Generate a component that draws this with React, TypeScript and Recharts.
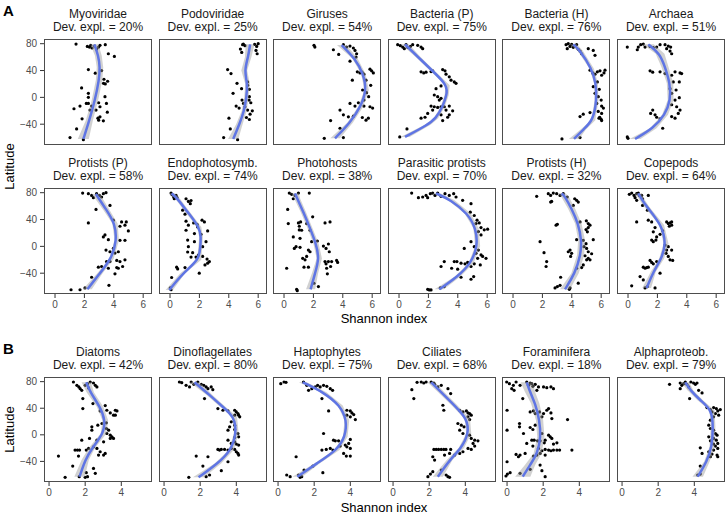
import { ScatterChart, Scatter, XAxis, YAxis } from "recharts";

type Pt = [number, number]; // [shannon, latitude]
type Fit = [number, number, number, number]; // [latitude, lower, fit, upper]

const LAT_TICKS = [-40, 0, 40, 80];
const TICKS_A = [0, 2, 4, 6];
const TICKS_B = [0, 2, 4];

const myoviridaePts: Pt[] = [[1.43,79.5],[2.2,76],[2.34,75],[2.43,77.5],[2.52,73.6],[2.7,76.5],[2.83,72],[2.97,75],[3.06,77.5],[3.42,78.5],[3.63,65],[4.04,61],[2.27,41.5],[2.74,36],[3.17,40],[3.33,27],[3.58,24],[3.3,21],[3.42,20],[1.81,14],[2.27,6],[2.27,0],[3.4,1],[1.29,-17],[1.7,-13],[2.27,-9],[2.13,-9],[2.49,-13],[2.97,-8],[3.06,-14],[3.5,-9],[2.38,-19],[2.79,-19],[3.56,-22],[1.84,-32],[2.92,-31],[3.06,-29],[2.97,-34],[3.29,-35],[1.47,-47],[1.02,-60],[1.93,-63]];
const myoviridaeFit: Fit[] = [[-62,1.55,1.93,2.3],[-34,2.1,2.34,2.58],[-4,2.5,2.72,2.94],[26,2.78,3.0,3.22],[45,2.84,3.06,3.28],[62,2.72,2.95,3.18],[79,2.4,2.68,2.95]];

const podoviridaePts: Pt[] = [[4.94,78.5],[4.99,79.5],[5.1,77],[4.79,72],[4.88,67],[5.76,79],[5.9,76],[6.0,80],[5.85,70],[5.93,65],[3.92,41.5],[4.15,35.5],[4.56,21],[4.87,13],[4.29,6],[5.28,23],[5.28,18],[5.4,12],[5.4,1],[5.38,-4],[4.9,-4],[5.0,-9],[5.1,-14],[5.28,-19],[4.5,-13],[4.7,-16],[5.5,-8],[5.6,-20],[5.45,-25],[4.01,-31],[5.2,-30],[5.4,-33],[4.1,-47],[3.65,-60],[4.6,-63]];
const podoviridaeFit: Fit[] = [[-62,3.95,4.3,4.65],[-40,4.5,4.72,4.94],[-20,4.88,5.05,5.22],[0,5.05,5.2,5.35],[20,5.12,5.28,5.44],[40,4.85,5.05,5.25],[60,5.1,5.32,5.54],[79,5.15,5.45,5.75]];

const girusesPts: Pt[] = [[2.04,77.5],[2.1,75],[3.36,71],[3.72,64],[4.04,78.5],[4.26,75],[4.49,76.5],[4.72,73.6],[4.83,70],[4.94,65],[4.9,60],[4.49,54],[4.99,38],[5.17,36.5],[5.31,37.5],[5.44,34.5],[5.85,42],[5.96,39.5],[6.08,36.5],[4.65,25.7],[5.58,25.7],[5.9,18],[5.35,11],[5.62,7],[5.76,1],[5.44,-4],[4.49,-9],[4.83,-13],[5.06,-8],[5.44,-13],[5.85,-14],[6.03,-16],[3.81,-19],[4.04,-26],[4.38,-29],[4.72,-28],[5.33,-30],[5.74,-31],[5.58,-34],[3.17,-34.6],[3.81,-46],[2.74,-61],[4.04,-60]];
const girusesFit: Fit[] = [[-61,3.15,3.47,3.8],[-38,4.3,4.49,4.68],[-14,5.05,5.22,5.39],[11,5.47,5.62,5.77],[35,5.25,5.4,5.55],[58,4.65,4.83,5.01],[78,3.6,3.92,4.25]];

const bacteriaPPts: Pt[] = [[-0.09,78.5],[0.09,77],[0.25,75],[0.36,72.6],[0.48,78.5],[0.59,74.6],[0.77,76],[0.93,78.5],[1.27,77.5],[1.5,75],[1.61,72.6],[1.5,38],[1.68,36.5],[1.84,37.5],[2.18,38.5],[2.29,39.5],[2.97,41.5],[3.13,39.5],[3.2,34.5],[3.42,30.6],[3.54,25.7],[3.76,23],[3.88,21],[2.52,13],[2.86,17],[2.4,3.5],[2.63,1],[2.74,-4],[2.86,-1.5],[2.18,-13],[2.4,-14],[2.63,-15],[2.29,-19],[1.95,-24],[2.86,-14],[3.08,-14],[3.2,-19],[3.42,-13],[1.5,-31],[1.77,-29.6],[2.86,-26],[2.97,-34.6],[3.42,-26],[3.31,-29.6],[3.65,-20],[0.54,-47],[0.05,-59]];
const bacteriaPFit: Fit[] = [[-59,0.1,0.41,0.72],[-41,1.75,1.95,2.15],[-31,2.37,2.52,2.67],[-14,2.83,2.97,3.11],[3,3.1,3.24,3.38],[18,3.17,3.31,3.45],[40,2.1,2.25,2.4],[60,1.13,1.3,1.47],[79,0.15,0.41,0.67]];

const bacteriaHPts: Pt[] = [[3.61,78.5],[3.76,80],[3.69,72.6],[3.88,76],[3.99,79],[4.1,74.6],[4.33,78.5],[4.44,71.6],[4.56,69],[4.67,65],[5.12,72.6],[5.46,70],[5.58,62.7],[5.24,40.5],[5.42,36.5],[5.58,34.5],[5.74,38],[5.92,39.5],[6.03,33],[6.19,36.5],[6.26,40.5],[5.74,23],[5.46,16],[5.87,12],[5.58,6],[5.8,1],[6.0,-4],[5.7,-9],[6.03,-13],[6.15,-16],[5.8,-21],[6.03,-24],[4.56,-28.6],[4.78,-25],[5.24,-22.7],[5.9,-29.6],[6.0,-32.6],[6.03,-34.6],[5.85,-31],[3.33,-62],[4.56,-60]];
const bacteriaHFit: Fit[] = [[-62,3.8,4.15,4.5],[-48,4.6,4.78,4.96],[-34,5.32,5.46,5.6],[-4,5.56,5.69,5.82],[21,5.52,5.65,5.78],[43,5.2,5.35,5.5],[70,4.38,4.56,4.74],[79,3.85,4.1,4.35]];

const archaeaPts: Pt[] = [[-0.05,75],[0.7,75],[0.86,78.5],[1.04,79.5],[0.63,71],[1.16,75],[1.5,76],[1.72,74],[1.95,75],[2.18,78.5],[2.52,78.5],[2.74,76.5],[2.63,72.6],[2.86,69],[2.97,65],[2.9,75],[1.5,39.5],[1.68,37.5],[2.18,38],[2.52,35.5],[2.97,33],[3.2,38],[3.54,36.5],[3.65,35.5],[3.08,23],[3.49,23],[2.86,13],[3.27,11],[2.97,6],[3.49,-0.5],[3.2,-4],[2.97,-11],[3.31,-14],[3.54,-19],[3.42,-24],[1.68,-19],[1.54,-24],[1.84,-26],[1.95,-29.6],[2.18,-32],[2.97,-28.6],[3.2,-31],[2.36,-46],[-0.05,-59],[0,-61]];
const archaeaFit: Fit[] = [[-62,0.1,0.48,0.85],[-46,1.5,1.72,1.94],[-26,2.32,2.52,2.72],[-4,2.7,2.9,3.1],[21,2.64,2.86,3.08],[45,2.28,2.52,2.76],[65,1.88,2.18,2.48],[79,1.0,1.38,1.75]];

const protistsPPts: Pt[] = [[1.88,79.5],[2.27,78.5],[2.49,76],[2.61,72.6],[2.83,78.5],[3.02,76],[3.17,73.6],[3.29,78.5],[3.47,80],[2.79,55],[3.74,61],[2.27,35],[3.29,14],[3.4,17],[3.97,39],[4.53,36.5],[4.76,31.6],[4.99,23],[4.42,30],[4.85,36.5],[3.63,10],[4.42,9],[4.76,9],[3.74,-8],[4.08,-10],[4.31,-8],[3.47,-5.5],[3.97,-3],[3.51,-22.7],[3.74,-22.7],[4.2,-21],[4.42,-22.7],[4.76,-20],[4.6,-30],[2.95,-31],[3.17,-30],[3.63,-32.6],[4.2,-31.6],[4.31,-32.6],[4.08,-41],[2.49,-46],[3.67,-58],[1.09,-64.7],[1.7,-64.7],[2.04,-62]];
const protistsPFit: Fit[] = [[-64,1.9,2.2,2.5],[-40,2.88,3.06,3.24],[-18,3.7,3.85,4.0],[9,4.05,4.2,4.35],[34,3.9,4.08,4.26],[54,3.3,3.51,3.72],[78,2.5,2.78,3.05]];

const endoPts: Pt[] = [[0.07,79.5],[0.14,77],[0.25,73.6],[0.41,76],[0.29,71],[0.48,72.6],[1.09,71],[1.25,67],[1.43,68.4],[1.38,63.7],[0.86,54],[1.02,48],[1.09,37.5],[1.25,31.6],[1.61,35],[1.84,33],[1.88,29],[2.18,39],[2.34,36.5],[2.56,23],[1.09,24],[1.66,19],[2.11,18],[1.2,9.4],[1.25,-0.5],[1.66,7],[2.45,7],[2.22,-0.5],[1.2,-8.4],[1.54,-9.4],[1.77,-16],[1.43,-16],[1.93,-13],[2.22,-15],[2.52,-19],[2.68,-22.7],[2.56,-25],[2.38,-27.6],[0.45,-31],[0.52,-33.6],[1.02,-31.6],[1.99,-40],[0.11,-46.4],[0.07,-64.7],[0.02,-62]];
const endoFit: Fit[] = [[-65,-0.3,-0.05,0.2],[-40,0.7,0.86,1.02],[-20,1.85,1.99,2.13],[0,1.93,2.06,2.19],[14,1.98,2.11,2.24],[29,1.85,1.99,2.13],[51,1.04,1.2,1.36],[71,0.36,0.52,0.68],[79,-0.1,0.11,0.32]];

const photohostsPts: Pt[] = [[0.36,79.5],[0.52,77.5],[0.75,76],[0.98,79.5],[1.72,79.5],[0.63,71],[0.25,55],[1.95,44],[0.29,34],[0.98,35],[1.13,36.5],[1.54,34],[1.77,24],[1.04,30],[1.2,24],[2.79,35],[3.13,36.5],[1.04,24.5],[0.63,14],[1.09,12],[1.88,7],[2.27,8],[0.82,-0.5],[0.7,-3],[1.09,-1.5],[1.66,-5.5],[1.77,-8],[2.68,0.5],[3.02,3.5],[2.86,-3],[3.08,-8],[1.27,-17.8],[1.54,-15],[1.43,-20],[2.79,-22.7],[3.02,-22.7],[3.24,-22.7],[3.58,-21],[3.65,-24],[2.86,-26],[1.36,-31],[1.66,-31],[2.9,-32.6],[3.17,-30],[0.18,-32.6],[2.95,-41],[0.86,-64],[0.9,-66],[2.34,-60],[2.04,-55]];
const photohostsFit: Fit[] = [[-64,1.5,1.81,2.12],[-40,1.9,2.11,2.32],[-18,2.22,2.4,2.58],[4,2.0,2.18,2.36],[27,1.6,1.77,1.94],[51,1.14,1.32,1.5],[71,0.7,0.9,1.1],[79,0.5,0.75,1.0]];

const parasiticPts: Pt[] = [[0.86,79.5],[1.32,72.6],[1.61,73.6],[1.84,76],[1.95,72.6],[2.13,78.5],[2.29,79.5],[2.45,76],[2.63,79.5],[2.86,74.6],[3.13,78.5],[3.42,76],[3.72,78.5],[3.88,73.6],[4.33,68.6],[4.9,63.7],[4.85,51],[5.12,46],[5.31,39],[5.46,35],[5.24,34],[5.58,28],[5.4,22],[5.58,17],[5.8,24.7],[6.03,25.7],[4.44,-3],[4.9,7],[5.12,-0.5],[5.24,-10.4],[5.4,-5.5],[5.58,-12.8],[5.69,-15],[5.92,-17.8],[5.35,-17.8],[3.08,-22.7],[3.76,-22.7],[3.94,-22.7],[4.22,-25],[4.49,-26],[4.67,-24],[4.9,-30],[5.12,-26],[5.53,-27.6],[2.86,-30],[3.58,-32.6],[3.99,-34],[4.22,-46],[4.9,-49],[5.08,-45],[1.95,-64],[2.06,-65],[2.18,-65],[2.81,-62],[3.08,-60]];
const parasiticFit: Fit[] = [[-64,2.42,2.74,3.06],[-45,3.8,3.99,4.18],[-25,4.73,4.9,5.07],[0,5.18,5.35,5.52],[27,5.06,5.24,5.42],[49,4.46,4.67,4.88],[69,3.32,3.54,3.76],[79,2.25,2.52,2.8]];

const protistsHPts: Pt[] = [[1.61,74.6],[2.4,78.5],[2.56,76],[2.74,79.5],[2.63,67],[2.97,78.5],[3.2,76],[3.42,78.5],[3.69,73.6],[2.56,66],[4.2,71],[4.33,68.6],[4.44,66],[4.1,61],[4.99,38],[5.12,34],[5.24,31.6],[5.12,28],[4.97,25],[5.06,21.7],[2.93,31.6],[3.02,33],[4.56,36.5],[1.84,7],[4.33,10],[4.78,9],[5.46,10],[4.97,4],[4.83,-0.5],[5.01,-3],[5.12,-8],[5.35,-11],[4.9,-14],[5.12,-17.8],[5.01,-20],[5.24,-20],[2.11,-9.4],[2.29,-22.7],[2.25,-30],[3.88,-5.5],[3.76,-8],[3.99,-10.4],[3.92,-15],[4.33,-32.6],[4.67,-31.6],[4.78,-27.6],[3.24,-46],[4.44,-54.8],[2.86,-62],[3.02,-60],[3.2,-58],[3.83,-64],[3.88,-62]];
const protistsHFit: Fit[] = [[-64,3.2,3.54,3.88],[-40,3.97,4.22,4.47],[-13,4.36,4.6,4.84],[9,4.44,4.67,4.9],[34,4.22,4.44,4.66],[56,3.75,3.99,4.23],[74,3.28,3.54,3.8],[79,3.05,3.31,3.57]];

const copepodsPts: Pt[] = [[0.09,77.5],[0.25,79.5],[0.41,76],[0.59,78.5],[0.48,72.6],[0.59,68.6],[0.7,79.5],[0.93,76],[0.99,71],[1.38,76],[0.77,76],[0.99,61],[1.32,54],[0.59,36.5],[1.38,39],[1.61,36.5],[2.63,36.5],[2.74,34],[2.86,35],[2.97,36.5],[2.81,30],[2.97,31.6],[1.84,28],[1.72,21.7],[1.95,14],[2.18,18],[2.36,23],[1.9,9.4],[1.61,9.4],[1.72,7],[2.52,2],[2.74,-0.5],[2.63,-5.5],[2.97,-5.5],[2.59,-10.4],[2.74,-15],[2.86,-20],[3.04,-21],[1.5,-21],[1.61,-24],[1.72,-26],[1.95,-22.7],[1.04,-31],[1.16,-32.6],[1.27,-31.6],[1.38,-31],[2.18,-40],[0.82,-45],[1.04,-50],[0.25,-58.8],[1.16,-62],[1.32,-60],[1.84,-62]];
const copepodsFit: Fit[] = [[-62,0.97,1.27,1.57],[-38,1.55,1.72,1.89],[-18,2.12,2.29,2.46],[4,2.42,2.59,2.76],[32,2.13,2.29,2.45],[59,1.1,1.27,1.44],[74,0.63,0.82,1.01],[79,0.45,0.7,0.95]];

const diatomsPts: Pt[] = [[1.35,79.5],[1.54,74.5],[1.65,72],[1.72,69.5],[1.81,67],[2.0,74.5],[2.13,77],[2.28,79.5],[2.46,78],[2.56,74.5],[2.19,70.5],[2.65,72],[1.87,54.5],[1.87,39.5],[2.43,47],[2.83,36],[3.11,44],[3.2,37],[3.39,33],[3.57,29.5],[3.67,37],[3.76,36],[3.67,29.5],[2.37,12],[2.37,7],[2.7,14.5],[2.93,17],[3.17,18],[3.17,9.5],[3.3,7],[3.39,-0.5],[3.48,-3],[3.2,2],[3.39,-5.5],[3.57,-5.5],[1.81,-8],[2.24,-5.5],[2.65,-8],[3.02,-10.5],[1.44,-23],[1.57,-23],[1.69,-23],[2.06,-23],[2.19,-20.5],[2.46,-18],[2.65,-20.5],[2.83,-25.5],[3.02,-30.5],[3.11,-28],[0.52,-32],[1.63,-32],[2.74,-30.5],[1.31,-47],[2.46,-50.5],[2.06,-57],[2.56,-58],[0.89,-64],[1.67,-63],[2.0,-64],[2.13,-63]];
const diatomsFit: Fit[] = [[-63,1.4,1.69,1.98],[-38,1.8,2.0,2.2],[-20,2.2,2.37,2.54],[2,2.86,3.02,3.18],[22,2.95,3.11,3.27],[42,2.65,2.83,3.01],[64,2.08,2.28,2.48],[79,1.8,2.06,2.32]];

const dinoPts: Pt[] = [[0.85,79.5],[0.98,78.5],[1.5,79.5],[1.65,76],[1.87,79.5],[2.06,76],[2.2,74.5],[2.33,72],[2.43,69.5],[2.61,72],[2.7,68],[1.22,74.5],[1.41,72],[2.24,54.5],[2.98,39.5],[3.26,37],[3.54,36],[3.91,37],[4.0,34.5],[4.09,32],[4.13,29.5],[3.91,29.5],[4.19,27],[3.72,19.5],[3.63,12],[3.54,7],[3.91,14.5],[3.91,8],[4.09,2],[4.13,-3],[3.91,-4],[3.54,-8],[3.72,-13],[3.91,-10.5],[4.0,-14],[4.13,-15.5],[2.98,-22],[3.07,-23],[3.17,-22],[3.35,-22],[3.54,-23],[3.72,-20.5],[3.91,-22],[4.0,-25.5],[4.09,-28],[4.13,-30.5],[1.78,-32],[2.43,-33],[3.54,-40.5],[2.15,-47],[3.17,-54],[1.37,-64],[2.33,-63],[2.52,-60.5]];
const dinoFit: Fit[] = [[-64,1.6,1.91,2.22],[-43,2.8,2.98,3.16],[-23,3.58,3.72,3.86],[2,3.87,4.0,4.13],[27,3.78,3.91,4.04],[44,3.02,3.17,3.32],[60,2.36,2.52,2.68],[79,1.42,1.69,1.96]];

const haptoPts: Pt[] = [[0.15,77],[0.33,79.5],[0.44,79],[1.41,79.5],[1.59,74.5],[1.69,67],[1.87,69.5],[2.06,72],[2.19,74.5],[2.33,72],[2.52,74.5],[2.7,73],[2.89,69.5],[3.02,67],[2.43,54.5],[2.8,36],[3.81,37],[4.0,36],[4.09,33],[4.19,30.5],[4.28,23],[4.0,27],[3.81,29.5],[2.52,2],[3.07,-8],[3.17,-9],[3.35,-9],[4.0,-7],[3.91,-13],[3.72,-15.5],[3.81,-18],[4.0,-20.5],[3.44,-17],[2.43,-23],[2.67,-22],[2.89,-20.5],[3.04,-23],[3.63,-28],[3.78,-32],[4.0,-32],[1.0,-33],[1.93,-47],[2.48,-57],[1.44,-53],[0.48,-60.5],[0.67,-63],[1.13,-60.5],[1.31,-63],[1.22,-64]];
const haptoFit: Fit[] = [[-63,0.8,1.07,1.34],[-43,2.0,2.15,2.3],[-23,3.12,3.26,3.4],[-3,3.59,3.72,3.85],[22,3.68,3.81,3.94],[44,3.3,3.44,3.58],[64,2.36,2.52,2.68],[79,1.15,1.37,1.59]];

const ciliatesPts: Pt[] = [[1.33,79],[1.56,79.5],[1.7,78],[1.83,79.5],[2.11,79.5],[2.3,76],[2.48,72],[2.67,74.5],[3.04,69.5],[3.19,62],[1.04,68],[1.15,54.5],[2.26,78],[2.76,44.5],[2.81,37],[3.69,37],[3.87,34.5],[4.06,36],[4.15,33],[4.24,32],[4.33,29.5],[4.15,27],[4.24,23],[3.59,17],[3.78,14.5],[3.93,12],[3.69,7],[3.87,2],[4.24,-0.5],[4.33,-5.5],[4.52,-8],[4.7,-9],[4.43,-13],[4.52,-17],[4.15,-20.5],[4.33,-22],[2.26,-22],[2.39,-22],[2.52,-22],[2.67,-22],[2.81,-22],[2.93,-22],[3.19,-22],[2.2,-33],[2.3,-38],[2.85,-30.5],[3.13,-28],[3.41,-30.5],[3.69,-28],[3.87,-25.5],[2.07,-59],[2.2,-55.5],[1.93,-63],[2.67,-53],[2.94,-60.5],[3.04,-63],[3.13,-64]];
const ciliatesFit: Fit[] = [[-63,2.2,2.48,2.76],[-38,2.97,3.13,3.29],[-20,3.63,3.78,3.93],[2,4.05,4.19,4.33],[24,3.96,4.11,4.26],[44,3.25,3.41,3.57],[64,2.5,2.67,2.84],[79,1.9,2.11,2.32]];

const foramPts: Pt[] = [[-0.02,79.5],[0.13,77],[0.35,74.5],[0.5,79.5],[0.26,69.5],[0.39,67],[0.87,54.5],[0.72,74.5],[1.09,79.5],[1.28,78],[1.37,77],[1.56,76],[1.74,72],[2.02,72],[2.2,71],[2.43,72],[2.57,69.5],[1.65,67],[1.43,73],[1.19,74.5],[0,37],[1.28,34.5],[1.46,36],[1.56,32],[1.8,34.5],[2.02,32],[2.2,37],[2.3,39.5],[2.43,33],[1.93,27],[2.48,24.5],[3.35,23],[0,7],[0.69,17],[0.69,12],[0.91,2],[1.28,11],[1.43,8],[1.56,14.5],[1.93,2],[2.3,-0.5],[2.39,-3],[2.48,-5.5],[2.11,-8],[1.37,-8],[1.5,-8],[1.69,-9],[1.83,-9],[2.06,-12],[2.57,-14],[2.76,-12],[1.43,-17],[1.74,-20.5],[1.09,-13],[2.11,-22],[2.3,-23],[2.43,-24],[2.57,-23],[2.76,-23],[2.91,-23],[3.59,-23],[0.5,-29.5],[0.63,-33],[0.72,-30.5],[1.0,-28],[1.46,-32],[1.65,-30.5],[1.83,-28],[1.93,-24],[2.11,-30.5],[0,-40.5],[-0.06,-62],[0.02,-59],[0.17,-57],[1.83,-45.5],[1.93,-54],[2.11,-63],[1.28,-52],[0.72,-58]];
const foramFit: Fit[] = [[-63,0.45,0.87,1.29],[-45,1.0,1.28,1.56],[-28,1.47,1.69,1.91],[-3,1.67,1.87,2.07],[22,1.6,1.8,2.0],[47,1.33,1.56,1.79],[64,1.0,1.28,1.56],[79,0.75,1.09,1.43]];

const alphaPts: Pt[] = [[2.63,76],[3.22,78],[3.31,74.5],[3.41,77],[3.5,79.5],[3.59,76],[3.69,72],[3.81,79.5],[3.96,78],[4.06,76],[4.15,78],[3.22,69.5],[3.74,54.5],[4.24,67],[4.43,63],[4.7,41],[4.89,38],[5.07,41],[5.22,39.5],[5.3,36],[5.44,38],[4.98,34.5],[5.17,32],[5.35,29.5],[5.07,27],[4.89,22],[4.8,14.5],[4.89,9.5],[5.07,7],[5.17,2],[5.26,-0.5],[5.07,-5.5],[4.8,-3],[5.22,-8],[5.3,-13],[5.07,-14],[4.89,-9],[5.17,-17],[5.3,-20.5],[5.07,-23],[4.33,-19.5],[4.43,-28],[4.8,-25.5],[4.98,-29],[5.26,-30.5],[5.3,-33],[4.89,-33],[4.33,-47],[4.19,-60.5],[4.33,-59]];
const alphaFit: Fit[] = [[-63,3.9,4.19,4.48],[-40,4.55,4.7,4.85],[-18,4.84,4.98,5.12],[12,4.91,5.04,5.17],[37,4.84,4.98,5.12],[52,4.18,4.33,4.48],[67,3.62,3.78,3.94],[79,3.28,3.5,3.72]];

const rowA1 = [
  { name: "Myoviridae", dev: 20, pts: myoviridaePts, fit: myoviridaeFit },
  { name: "Podoviridae", dev: 25, pts: podoviridaePts, fit: podoviridaeFit },
  { name: "Giruses", dev: 54, pts: girusesPts, fit: girusesFit },
  { name: "Bacteria (P)", dev: 75, pts: bacteriaPPts, fit: bacteriaPFit },
  { name: "Bacteria (H)", dev: 76, pts: bacteriaHPts, fit: bacteriaHFit },
  { name: "Archaea", dev: 51, pts: archaeaPts, fit: archaeaFit },
];
const rowA2 = [
  { name: "Protists (P)", dev: 58, pts: protistsPPts, fit: protistsPFit },
  { name: "Endophotosymb.", dev: 74, pts: endoPts, fit: endoFit },
  { name: "Photohosts", dev: 38, pts: photohostsPts, fit: photohostsFit },
  { name: "Parasitic protists", dev: 70, pts: parasiticPts, fit: parasiticFit },
  { name: "Protists (H)", dev: 32, pts: protistsHPts, fit: protistsHFit },
  { name: "Copepods", dev: 64, pts: copepodsPts, fit: copepodsFit },
];
const rowB = [
  { name: "Diatoms", dev: 42, pts: diatomsPts, fit: diatomsFit },
  { name: "Dinoflagellates", dev: 80, pts: dinoPts, fit: dinoFit },
  { name: "Haptophytes", dev: 75, pts: haptoPts, fit: haptoFit },
  { name: "Ciliates", dev: 68, pts: ciliatesPts, fit: ciliatesFit },
  { name: "Foraminifera", dev: 18, pts: foramPts, fit: foramFit },
  { name: "Alphaproteob.", dev: 79, pts: alphaPts, fit: alphaFit },
];

const FONT = '"Liberation Sans", Arial, Helvetica, sans-serif';
const COL_LEFT = 44;
const COL_STEP = 114.6;
const PANEL_W = 108;
const Y_AXIS_W = 44;
const X_AXIS_H = 20;

const Dot = (p: any) => <circle cx={p.cx} cy={p.cy} r={1.6} fill="#000" />;
const Nothing = () => <g />;
const Ribbon = (p: any) => {
  const pts = p.points || [];
  if (!pts.length) return <g />;
  const d = pts.map((q: any, i: number) => `${i ? "L" : "M"}${q.x},${q.y}`).join("") + "Z";
  return <path d={d} fill="#999999" fillOpacity={0.45} stroke="none" />;
};
const minus = (v: number) => String(v).replace("-", "\u2212");

function Panel({ p, col, top, h, showX, xDomain, xTicks }: any) {
  const left = COL_LEFT + col * COL_STEP;
  const showY = col === 0;
  const yW = showY ? Y_AXIS_W : 0;
  const xH = showX ? X_AXIS_H : 0;
  const dots = p.pts.map(([x, y]: Pt) => ({ x, y }));
  const line = p.fit.map((f: Fit) => ({ x: f[2], y: f[0] }));
  const ribbon = [
    ...p.fit.map((f: Fit) => ({ x: f[1], y: f[0] })),
    ...p.fit.slice().reverse().map((f: Fit) => ({ x: f[3], y: f[0] })),
  ];
  const tickStyle = { fontSize: 10, fill: "#4d4d4d", fontFamily: FONT };
  return (
    <>
      <div
        style={{
          position: "absolute", left: left - 30, top: top - 31.5, width: PANEL_W + 60,
          textAlign: "center", fontSize: 12, lineHeight: "13px", color: "#1a1a1a",
          fontFamily: FONT, whiteSpace: "nowrap",
        }}
      >
        <div>{p.name}</div>
        <div>Dev. expl. = {p.dev}%</div>
      </div>
      <div style={{ position: "absolute", left: left - yW, top }}>
        <ScatterChart width={PANEL_W + yW} height={h + xH} margin={{ top: 0, right: 0, bottom: 0, left: 0 }}>
          <XAxis
            type="number" dataKey="x" domain={xDomain} allowDataOverflow ticks={xTicks}
            hide={!showX} height={X_AXIS_H} tickSize={4} tickMargin={3}
            axisLine={false} tickLine={{ stroke: "#333333" }} tick={tickStyle} interval={0}
          />
          <YAxis
            type="number" dataKey="y" domain={[-71, 87]} allowDataOverflow ticks={LAT_TICKS}
            hide={!showY} width={Y_AXIS_W} tickSize={4} tickMargin={3} tickFormatter={minus}
            axisLine={false} tickLine={{ stroke: "#333333" }} tick={tickStyle} interval={0}
          />
          <Scatter data={dots} shape={Dot} isAnimationActive={false} />
          <Scatter data={ribbon} shape={Nothing} line={Ribbon} isAnimationActive={false} />
          <Scatter
            data={line} shape={Nothing} fill="#5f75e4"
            line={{ stroke: "#5f75e4", strokeWidth: 2.5 }} lineJointType="basis"
            isAnimationActive={false}
          />
        </ScatterChart>
      </div>
      <div
        style={{
          position: "absolute", left, top, width: PANEL_W, height: h,
          border: "1px solid #4d4d4d", boxSizing: "border-box", pointerEvents: "none",
        }}
      />
    </>
  );
}

export default function App() {
  const rows = [
    { panels: rowA1, top: 39, h: 106, showX: false, xDomain: [-0.75, 6.6], xTicks: TICKS_A },
    { panels: rowA2, top: 188, h: 106, showX: true, xDomain: [-0.75, 6.6], xTicks: TICKS_A },
    { panels: rowB, top: 377, h: 105, showX: true, xDomain: [-0.28, 5.7], xTicks: TICKS_B },
  ];
  return (
    <div style={{ position: "absolute", left: 0, top: 0, width: 727, height: 515, background: "#fff", overflow: "hidden" }}>
      <svg width={727} height={515} style={{ position: "absolute", left: 0, top: 0 }}>
        <g fontFamily={FONT} fill="#000">
          <text x={3} y={15.5} fontSize={15} fontWeight="bold">A</text>
          <text x={3} y={353.5} fontSize={15} fontWeight="bold">B</text>
          <text transform="translate(9,166.5) rotate(-90)" textAnchor="middle" dominantBaseline="central" fontSize={13}>Latitude</text>
          <text transform="translate(9,429.5) rotate(-90)" textAnchor="middle" dominantBaseline="central" fontSize={13}>Latitude</text>
          <text x={384} y={318.5} textAnchor="middle" dominantBaseline="central" fontSize={13}>Shannon index</text>
          <text x={384} y={507.5} textAnchor="middle" dominantBaseline="central" fontSize={13}>Shannon index</text>
        </g>
      </svg>
      {rows.map((r, ri) =>
        r.panels.map((p, ci) => (
          <Panel key={`${ri}-${ci}`} p={p} col={ci} top={r.top} h={r.h} showX={r.showX} xDomain={r.xDomain} xTicks={r.xTicks} />
        ))
      )}
    </div>
  );
}
